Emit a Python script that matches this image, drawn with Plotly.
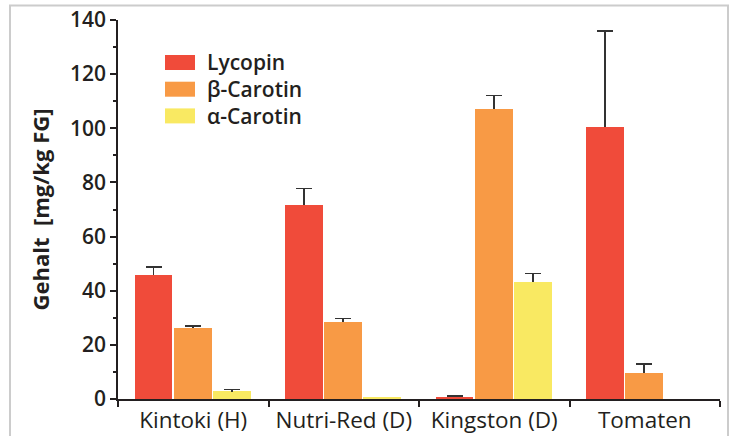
import plotly.graph_objects as go

categories = ["Kintoki (H)", "Nutri-Red (D)", "Kingston (D)", "Tomaten"]
series_names = ["Lycopin", "β-Carotin", "α-Carotin"]
lycopin = [45.8, 71.5, 0.8, 100.3]
lycopin_err = [3.0, 6.3, 0.3, 35.7]
beta = [26.1, 28.3, 107.0, 9.5]
beta_err = [0.8, 1.4, 5.2, 3.5]
alpha = [2.8, 0.8, 43.1, None]
alpha_err = [0.7, None, 3.3, None]
colors = ["#f04b3a", "#f89a45", "#f9e962"]
y_ticks = [0, 20, 40, 60, 80, 100, 120, 140]

W, H = 735, 436
ml, mr, mt, mb = 118, 15, 20, 37
pw, ph = W - ml - mr, H - mt - mb

def px2x(p):
    return (p - ml) / pw

def py2y(p):
    return (H - mb - p) / ph

bar_w = 0.26
gap = 0.008
fig = go.Figure()
for i, (name, vals, col) in enumerate(zip(series_names, [lycopin, beta, alpha], colors)):
    off = -1.5 * bar_w + i * bar_w
    fig.add_trace(go.Bar(
        x=categories, y=vals, name=name, width=bar_w - gap, offset=off,
        marker=dict(color=col, line=dict(width=0)),
        showlegend=False, hoverinfo="x+y+name",
    ))

# error bars (upper only): thin stem bars with a cap at their top
for i, (vals, errs) in enumerate(zip([lycopin, beta, alpha],
                                     [lycopin_err, beta_err, alpha_err])):
    stem_w = 0.006
    off = -1.5 * bar_w + i * bar_w + (bar_w - gap) / 2 - stem_w / 2
    xs, bases, lens = [], [], []
    for c, v, e in zip(categories, vals, errs):
        if v is None or e is None:
            continue
        xs.append(c); bases.append(v); lens.append(e)
    fig.add_trace(go.Bar(
        x=xs, y=lens, base=bases, width=stem_w, offset=off,
        marker=dict(color="#333333", line=dict(width=0)),
        error_y=dict(type="data", array=[0] * len(xs), arrayminus=[0] * len(xs),
                     symmetric=False, color="#333333", thickness=1.5, width=8),
        showlegend=False, hoverinfo="skip",
    ))

fig.update_layout(
    width=W, height=H,
    margin=dict(l=ml, r=mr, t=mt, b=mb, autoexpand=False),
    paper_bgcolor="white", plot_bgcolor="white",
    barmode="group", bargap=0, bargroupgap=0,
    font=dict(family="Open Sans", color="#231f20"),
)
fig.update_xaxes(
    type="category", range=[-0.5, 3.5], showline=True, linecolor="#231f20", linewidth=1.5,
    ticks="outside", tickson="boundaries", ticklen=6, tickwidth=1.5, tickcolor="#231f20",
    tickfont=dict(size=22.5, family="Open Sans", color="#231f20"),
    showgrid=False, zeroline=False, automargin=False,
)
fig.update_yaxes(
    range=[0, 140], tickvals=y_ticks, showline=True, linecolor="#231f20", linewidth=1.5,
    ticks="outside", ticklen=6, tickwidth=1.5, tickcolor="#231f20",
    minor=dict(dtick=10, ticks="outside", ticklen=3, tickwidth=1.5, tickcolor="#231f20", showgrid=False),
    tickfont=dict(size=21, family="Open Sans", weight=600, color="#231f20"),
    title=dict(text="Gehalt  [mg/kg FG]", font=dict(size=22, family="Open Sans", weight=700, color="#231f20"),
               standoff=14),
    showgrid=False, zeroline=False, automargin=False,
)

# outer frame
fig.add_shape(type="rect", xref="paper", yref="paper",
              x0=px2x(10), x1=px2x(728), y0=py2y(440), y1=py2y(5.5),
              line=dict(color="#cccccc", width=2), fillcolor="rgba(0,0,0,0)", layer="below")

# custom legend
for i, (name, col) in enumerate(zip(series_names, colors)):
    top = 55 + i * 26.7
    fig.add_shape(type="rect", xref="paper", yref="paper",
                  x0=px2x(165), x1=px2x(195), y0=py2y(top + 15), y1=py2y(top),
                  line=dict(width=0), fillcolor=col)
    fig.add_annotation(xref="paper", yref="paper", x=px2x(205), y=py2y(top + 7.5),
                       text=name, showarrow=False, xanchor="left", yanchor="middle",
                       font=dict(size=21, family="Open Sans", weight=600, color="#231f20"))

fig.write_html("out.html", config={"displayModeBar": False},
               post_script="document.body.style.margin='0px';")
